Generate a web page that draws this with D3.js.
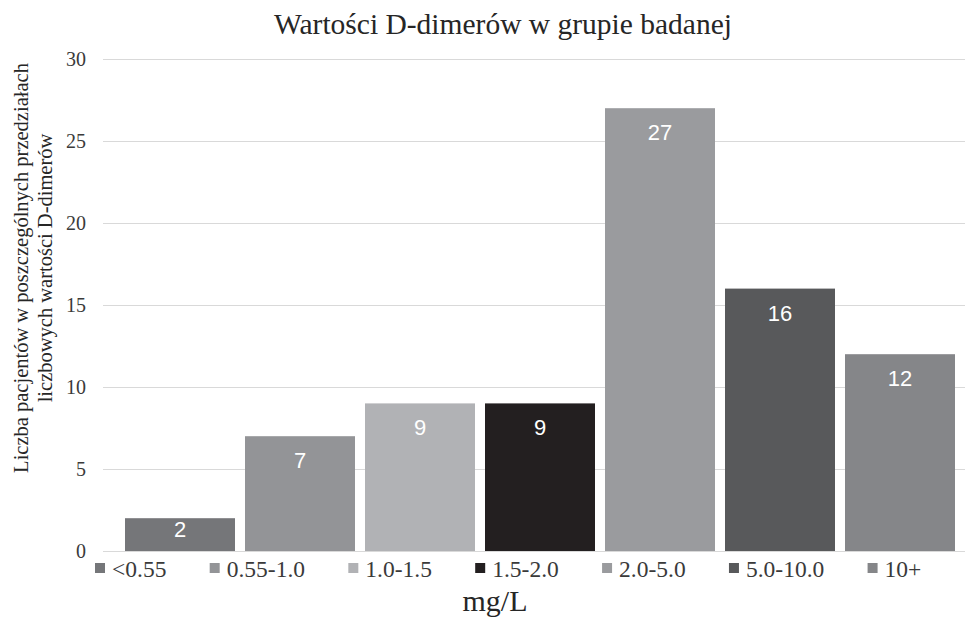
<!DOCTYPE html>
<html><head><meta charset="utf-8">
<script src="https://cdn.jsdelivr.net/npm/d3@7"></script>
<style>body{margin:0;background:#fff}svg{display:block}</style>
</head><body>
<script>
const categories = ["<0.55","0.55-1.0","1.0-1.5","1.5-2.0","2.0-5.0","5.0-10.0","10+"];
const values = [2,7,9,9,27,16,12];
const colors = ["#757679","#939497","#b1b2b5","#231f20","#9a9b9e","#58595b","#858689"];
const yTicks = [0,5,10,15,20,25,30];
const title = "Wartości D-dimerów w grupie badanej";
const yTitle = ["Liczba pacjentów w poszczególnych przedziałach","liczbowych wartości D-dimerów"];
const xTitle = "mg/L";

const W = 965, H = 619;
const svg = d3.select("body").append("svg").attr("width", W).attr("height", H);
const serif = "'Liberation Serif','Times New Roman',serif";

const y = d3.scaleLinear().domain([0,30]).range([551,59]);
const x = d3.scaleBand().domain(categories).range([120,960]).paddingInner(1/12).paddingOuter(1/24);

// gridlines
svg.append("g").selectAll("line").data(yTicks).join("line")
  .attr("x1",103).attr("x2",965)
  .attr("y1",d=>y(d)+0.5).attr("y2",d=>y(d)+0.5)
  .attr("stroke","#d9d9d9").attr("stroke-width",1);

// y axis labels
const yAxis = d3.axisLeft(y).tickValues(yTicks).tickSize(0).tickPadding(0);
const ga = svg.append("g").attr("transform","translate(86,0)").call(yAxis);
ga.select(".domain").remove();
ga.selectAll("text").attr("font-family",serif).attr("font-size",20).attr("fill","#3a3a3a").attr("dy","0.34em");

// bars
const data = categories.map((c,i)=>({c,v:values[i],col:colors[i]}));
svg.append("g").selectAll("rect").data(data).join("rect")
  .attr("x",d=>x(d.c)).attr("width",x.bandwidth())
  .attr("y",d=>y(d.v)).attr("height",d=>y(0)-y(d.v))
  .attr("fill",d=>d.col);

svg.append("g").selectAll("text").data(data).join("text")
  .attr("x",d=>x(d.c)+x.bandwidth()/2)
  .attr("y",d=>Math.min(y(d.v)+32, y(0)-14))
  .attr("text-anchor","middle")
  .attr("font-family","'Liberation Sans',Arial,sans-serif").attr("font-size",22)
  .attr("fill","#fff").text(d=>d.v);

// title
svg.append("text").attr("x",503).attr("y",34).attr("text-anchor","middle")
  .attr("font-family",serif).attr("font-size",29.5).attr("fill","#262626").text(title);

// y title
const yt = svg.append("text").attr("transform","translate(0,268) rotate(-90)")
  .attr("text-anchor","middle").attr("font-family",serif).attr("font-size",20.5).attr("fill","#262626");
yt.append("tspan").attr("x",0).attr("y",28).text(yTitle[0]);
yt.append("tspan").attr("x",0).attr("y",52).text(yTitle[1]);

// x title
svg.append("text").attr("x",495).attr("y",611).attr("text-anchor","middle")
  .attr("font-family",serif).attr("font-size",30).attr("fill","#262626").text(xTitle);

// legend
const lg = svg.append("g");
let lx = 95;
data.forEach(d=>{
  lg.append("rect").attr("x",lx).attr("y",563).attr("width",10).attr("height",10).attr("fill",d.col);
  const t = lg.append("text").attr("x",lx+17).attr("y",577)
    .attr("font-family",serif).attr("font-size",23.5).attr("fill","#3a3a3a").text(d.c);
  lx += 17 + t.node().getComputedTextLength() + 43.3;
});
</script>
</body></html>
